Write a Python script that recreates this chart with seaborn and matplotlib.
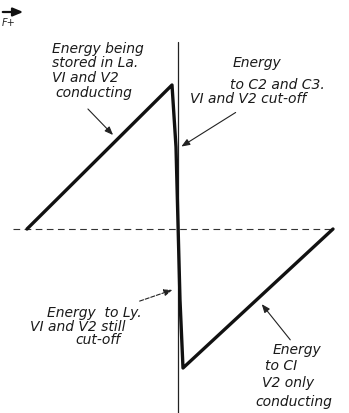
import matplotlib
matplotlib.use('Agg')
import matplotlib.pyplot as plt
import seaborn as sns

# sawtooth scan waveform (time, amplitude), origin where the two axes cross
wave_t = [-151, -6, -2, 2, 5, 155]
wave_v = [0, 144, 82, -71, -139, 0]

# axes extents
vaxis_top, vaxis_bottom = 187, -184
haxis_left, haxis_right = -165, 155

# labels: (text, t, v) with left-aligned anchor
labels = [
    ("Energy being", -126, 180), ("stored in La.", -126, 166),
    ("VI and V2", -126, 151), ("conducting", -123, 136),
    ("Energy", 55, 166), ("to C2 and C3.", 52, 144), ("VI and V2 cut-off", 12, 130),
    ("Energy  to Ly.", -131, -84), ("VI and V2 still", -148, -98), ("cut-off", -103, -111),
    ("Energy", 95, -121), ("to CI", 87, -137), ("V2 only", 84, -154), ("conducting", 77, -173),
]

# arrows: (tail t, tail v, head t, head v, linestyle)
arrows = [
    (-92, 122, -63, 92, '-'),
    (60, 118, 1, 81, '-'),
    (-41, -73, -3, -60, '--'),
    (114, -113, 82, -73, '-'),
]

sns.set_style('white')
fig = plt.figure(figsize=(3.49, 4.13), dpi=100)
ax = fig.add_axes([0, 0, 1, 1])
ax.set_xlim(-178, 171)
ax.set_ylim(-184, 229)
ax.axis('off')

ax.plot([0, 0], [vaxis_bottom, vaxis_top], color='#222222', lw=0.9)
ax.plot([haxis_left, haxis_right], [0, 0], color='#333333', lw=0.8, dashes=(6, 4))

sns.lineplot(x=wave_t, y=wave_v, sort=False, estimator=None, color='#111111',
             lw=2.4, ax=ax, solid_joinstyle='round', solid_capstyle='round')

for txt, t, v in labels:
    ax.text(t, v, txt, ha='left', va='center', fontsize=10, style='italic',
            family='DejaVu Sans', color='#1a1a1a')

for t0, v0, t1, v1, ls in arrows:
    ax.annotate('', xy=(t1, v1), xytext=(t0, v0),
                arrowprops=dict(arrowstyle='-|>,head_length=0.5,head_width=0.2',
                                color='#222222', lw=0.8, linestyle=ls))

# cropped fragment of the page at top left
ax.annotate('', xy=(-152, 217), xytext=(-178, 217),
            arrowprops=dict(arrowstyle='-|>,head_length=0.6,head_width=0.25', color='#111111', lw=1.6))
ax.text(-176, 206, 'F+', fontsize=7, style='italic', va='center', color='#222222')

fig.savefig('out.png', dpi=100)
